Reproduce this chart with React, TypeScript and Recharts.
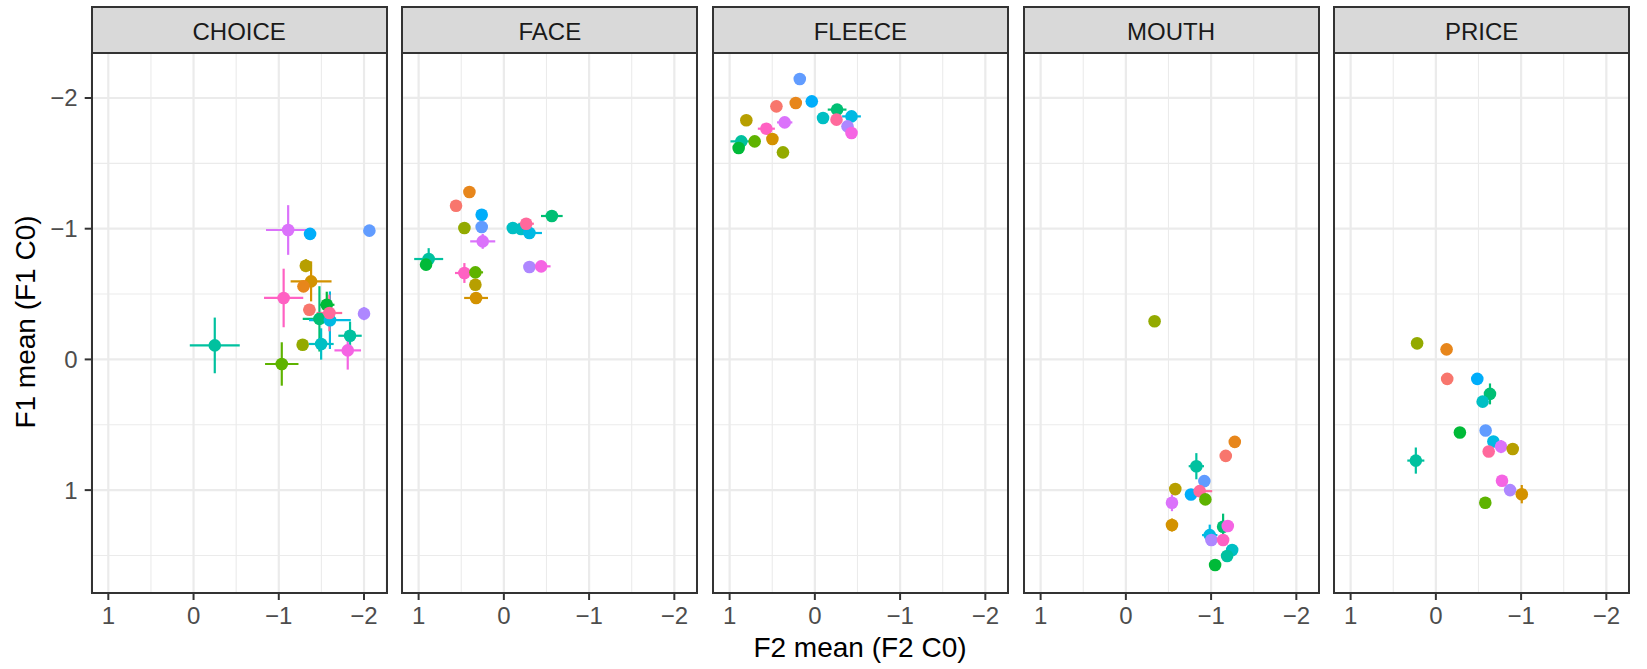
import React from 'react'
import { ScatterChart, Scatter, XAxis, YAxis, CartesianGrid, ErrorBar } from 'recharts'

// ggplot-style hue palette, one colour per speaker
const hues = [
  '#F8766D', '#E7861B', '#D39200', '#B79F00', '#93AA00', '#5EB300',
  '#00BA38', '#00BF74', '#00C19F', '#00BFC4', '#00B9E3', '#00ADFA',
  '#619CFF', '#AE87FF', '#DB72FB', '#F564E3', '#FF61C3', '#FF699C',
]

const facets = ['CHOICE', 'FACE', 'FLEECE', 'MOUTH', 'PRICE']

// x = F2 mean, y = F1 mean, ex / ey = error half-widths, c = speaker colour
const choice = [
  { x: -1.11, y: -0.99, ex: 0.26, ey: 0.19, c: 14 },
  { x: -1.367, y: -0.96, ex: 0, ey: 0, c: 11 },
  { x: -2.063, y: -0.985, ex: 0, ey: 0, c: 12 },
  { x: -1.317, y: -0.717, ex: 0.03, ey: 0.05, c: 3 },
  { x: -1.379, y: -0.597, ex: 0.24, ey: 0.153, c: 2 },
  { x: -1.29, y: -0.559, ex: 0.06, ey: 0.04, c: 1 },
  { x: -1.057, y: -0.47, ex: 0.23, ey: 0.224, c: 16 },
  { x: -1.359, y: -0.38, ex: 0.07, ey: 0.04, c: 0 },
  { x: -1.563, y: -0.418, ex: 0.09, ey: 0.1, c: 6 },
  { x: -1.477, y: -0.31, ex: 0.196, ey: 0.25, c: 7 },
  { x: -1.6, y: -0.3, ex: 0.245, ey: 0.22, c: 10 },
  { x: -1.594, y: -0.355, ex: 0.15, ey: 0.14, c: 17 },
  { x: -2.0, y: -0.35, ex: 0.04, ey: 0.05, c: 13 },
  { x: -1.28, y: -0.112, ex: 0, ey: 0, c: 4 },
  { x: -1.497, y: -0.118, ex: 0.147, ey: 0.12, c: 9 },
  { x: -1.836, y: -0.181, ex: 0.137, ey: 0.108, c: 8 },
  { x: -1.809, y: -0.069, ex: 0.156, ey: 0.147, c: 15 },
  { x: -0.249, y: -0.107, ex: 0.293, ey: 0.213, c: 8 },
  { x: -1.035, y: 0.035, ex: 0.196, ey: 0.166, c: 5 },
]

const face = [
  { x: 0.404, y: -1.281, ex: 0, ey: 0, c: 1 },
  { x: 0.561, y: -1.176, ex: 0, ey: 0, c: 0 },
  { x: 0.26, y: -1.107, ex: 0, ey: 0, c: 11 },
  { x: 0.463, y: -1.005, ex: 0, ey: 0, c: 4 },
  { x: 0.26, y: -1.013, ex: 0, ey: 0, c: 12 },
  { x: 0.248, y: -0.903, ex: 0.147, ey: 0.057, c: 14 },
  { x: 0.882, y: -0.768, ex: 0.17, ey: 0.083, c: 8 },
  { x: 0.913, y: -0.725, ex: 0.04, ey: 0.03, c: 6 },
  { x: 0.463, y: -0.661, ex: 0.11, ey: 0.076, c: 16 },
  { x: 0.334, y: -0.666, ex: 0.09, ey: 0.04, c: 5 },
  { x: 0.334, y: -0.571, ex: 0, ey: 0, c: 3 },
  { x: 0.326, y: -0.47, ex: 0.14, ey: 0.04, c: 2 },
  { x: -0.105, y: -1.005, ex: 0, ey: 0, c: 9 },
  { x: -0.203, y: -0.998, ex: 0, ey: 0, c: 9 },
  { x: -0.3, y: -0.967, ex: 0.147, ey: 0.03, c: 10 },
  { x: -0.262, y: -1.038, ex: 0.09, ey: 0.03, c: 17 },
  { x: -0.563, y: -1.097, ex: 0.127, ey: 0.04, c: 7 },
  { x: -0.3, y: -0.707, ex: 0, ey: 0, c: 13 },
  { x: -0.438, y: -0.712, ex: 0.11, ey: 0.02, c: 15 },
]

const fleece = [
  { x: 0.177, y: -2.145, ex: 0, ey: 0, c: 12 },
  { x: 0.036, y: -1.974, ex: 0, ey: 0, c: 11 },
  { x: 0.451, y: -1.936, ex: 0, ey: 0, c: 0 },
  { x: 0.224, y: -1.962, ex: 0, ey: 0, c: 1 },
  { x: 0.804, y: -1.829, ex: 0, ey: 0, c: 3 },
  { x: 0.354, y: -1.813, ex: 0.09, ey: 0.02, c: 14 },
  { x: 0.569, y: -1.765, ex: 0.1, ey: 0.02, c: 16 },
  { x: 0.498, y: -1.686, ex: 0, ey: 0, c: 2 },
  { x: 0.706, y: -1.668, ex: 0, ey: 0, c: 5 },
  { x: 0.863, y: -1.668, ex: 0.127, ey: 0.04, c: 8 },
  { x: 0.894, y: -1.617, ex: 0, ey: 0, c: 6 },
  { x: 0.374, y: -1.584, ex: 0, ey: 0, c: 4 },
  { x: -0.261, y: -1.911, ex: 0.11, ey: 0.03, c: 7 },
  { x: -0.096, y: -1.847, ex: 0, ey: 0, c: 9 },
  { x: -0.254, y: -1.834, ex: 0.06, ey: 0.02, c: 17 },
  { x: -0.43, y: -1.859, ex: 0.11, ey: 0.02, c: 10 },
  { x: -0.383, y: -1.783, ex: 0, ey: 0, c: 13 },
  { x: -0.43, y: -1.732, ex: 0.04, ey: 0.02, c: 15 },
]

const mouth = [
  { x: -0.337, y: -0.292, ex: 0, ey: 0, c: 4 },
  { x: -1.278, y: 0.631, ex: 0, ey: 0, c: 1 },
  { x: -1.172, y: 0.738, ex: 0, ey: 0, c: 0 },
  { x: -0.827, y: 0.817, ex: 0.09, ey: 0.1, c: 8 },
  { x: -0.921, y: 0.931, ex: 0, ey: 0, c: 12 },
  { x: -0.58, y: 0.992, ex: 0, ey: 0, c: 3 },
  { x: -0.764, y: 1.033, ex: 0, ey: 0, c: 11 },
  { x: -0.866, y: 1.008, ex: 0.147, ey: 0.03, c: 17 },
  { x: -0.541, y: 1.097, ex: 0.02, ey: 0.064, c: 14 },
  { x: -0.933, y: 1.071, ex: 0, ey: 0, c: 5 },
  { x: -0.541, y: 1.267, ex: 0.02, ey: 0.05, c: 2 },
  { x: -1.141, y: 1.28, ex: 0.02, ey: 0.1, c: 7 },
  { x: -1.196, y: 1.275, ex: 0.04, ey: 0.03, c: 15 },
  { x: -0.984, y: 1.344, ex: 0.09, ey: 0.08, c: 10 },
  { x: -1.004, y: 1.382, ex: 0, ey: 0, c: 13 },
  { x: -1.141, y: 1.382, ex: 0, ey: 0, c: 16 },
  { x: -1.247, y: 1.458, ex: 0, ey: 0, c: 9 },
  { x: -1.188, y: 1.504, ex: 0, ey: 0, c: 8 },
  { x: -1.047, y: 1.573, ex: 0, ey: 0, c: 6 },
]

const price = [
  { x: 0.22, y: -0.123, ex: 0, ey: 0, c: 4 },
  { x: -0.126, y: -0.077, ex: 0, ey: 0, c: 1 },
  { x: -0.133, y: 0.149, ex: 0, ey: 0, c: 0 },
  { x: -0.486, y: 0.149, ex: 0, ey: 0, c: 11 },
  { x: -0.635, y: 0.264, ex: 0.07, ey: 0.08, c: 7 },
  { x: -0.549, y: 0.323, ex: 0.03, ey: 0.03, c: 9 },
  { x: -0.282, y: 0.559, ex: 0, ey: 0, c: 6 },
  { x: -0.584, y: 0.544, ex: 0, ey: 0, c: 12 },
  { x: -0.675, y: 0.628, ex: 0.05, ey: 0.03, c: 10 },
  { x: -0.765, y: 0.667, ex: 0.04, ey: 0.05, c: 14 },
  { x: -0.62, y: 0.705, ex: 0, ey: 0, c: 17 },
  { x: -0.902, y: 0.685, ex: 0, ey: 0, c: 3 },
  { x: 0.235, y: 0.774, ex: 0.1, ey: 0.1, c: 8 },
  { x: -0.776, y: 0.928, ex: 0, ey: 0, c: 15 },
  { x: -0.871, y: 1.0, ex: 0, ey: 0, c: 13 },
  { x: -1.008, y: 1.031, ex: 0.02, ey: 0.07, c: 2 },
  { x: -0.58, y: 1.097, ex: 0, ey: 0, c: 5 },
]

const facetData = [choice, face, fleece, mouth, price]

const xTicks = [1, 0, -1, -2]
const xMinor = [0.5, -0.5, -1.5]
const yTicks = [-2, -1, 0, 1]
const yMinor = [-1.5, -0.5, 0.5, 1.5]
const xDomain = [-2.266, 1.195]
const yDomain = [-2.344, 1.787]

const FONT = '"Liberation Sans", Arial, Helvetica, sans-serif'
const PANEL_W = 295
const PLOT_TOP = 53.3
const PLOT_H = 540
const STRIP_TOP = 6
const lefts = [91.7, 402.3, 712.9, 1023.5, 1334.1]

const fmt = (v: number) => (v < 0 ? '\u2212' + Math.abs(v) : String(v))

const Dot = (props: any) => {
  const { cx, cy, payload } = props
  if (cx == null || cy == null) return <g />
  return <circle cx={cx} cy={cy} r={6.3} fill={hues[payload.c]} />
}

const Empty = () => <g />

const tickStyle = { fill: '#4D4D4D', fontSize: 24, fontFamily: FONT }
const tickLineStyle = { stroke: '#333333', strokeWidth: 2 }

const Facet = ({ idx }: { idx: number }) => {
  const pts = facetData[idx]
  const first = idx === 0
  const left = first ? 0 : lefts[idx]
  const width = first ? lefts[0] + PANEL_W : PANEL_W
  return (
    <>
      {/* strip */}
      <div
        style={{
          position: 'absolute',
          left: lefts[idx] - 1,
          top: STRIP_TOP,
          width: PANEL_W + 2,
          height: PLOT_TOP - STRIP_TOP + 1,
          boxSizing: 'border-box',
          border: '2px solid #333333',
          background: '#D9D9D9',
          color: '#1A1A1A',
          fontFamily: FONT,
          fontSize: 24,
          lineHeight: '24px',
          display: 'flex',
          alignItems: 'center',
          justifyContent: 'center',
          paddingTop: 3,
        }}
      >
        {facets[idx]}
      </div>
      <div style={{ position: 'absolute', left, top: PLOT_TOP }}>
        <ScatterChart width={width} height={PLOT_H + 60} margin={{ top: 0, right: 0, bottom: 0, left: 0 }}>
          <XAxis xAxisId="minor" type="number" dataKey="x" domain={xDomain} allowDataOverflow reversed ticks={xMinor} hide />
          <YAxis yAxisId="minor" type="number" dataKey="y" domain={yDomain} allowDataOverflow reversed ticks={yMinor} hide />
          <CartesianGrid xAxisId="minor" yAxisId="minor" stroke="#EBEBEB" strokeWidth={1.1} />
          <CartesianGrid stroke="#EBEBEB" strokeWidth={2.2} />
          <XAxis
            type="number"
            dataKey="x"
            domain={xDomain}
            allowDataOverflow
            reversed
            ticks={xTicks}
            tickFormatter={fmt}
            axisLine={false}
            tickLine={tickLineStyle}
            tickSize={7}
            tickMargin={7}
            tick={tickStyle}
            height={60}
            interval={0}
          />
          <YAxis
            type="number"
            dataKey="y"
            domain={yDomain}
            allowDataOverflow
            reversed
            ticks={yTicks}
            tickFormatter={fmt}
            axisLine={false}
            tickLine={tickLineStyle}
            tickSize={7}
            tickMargin={7}
            tick={tickStyle}
            width={lefts[0]}
            interval={0}
            hide={!first}
          />
          {pts.map((p, i) => (
            <Scatter key={'e' + i} data={[p]} shape={Empty} isAnimationActive={false}>
              {p.ex > 0 && (
                <ErrorBar dataKey="ex" direction="x" width={0} stroke={hues[p.c]} strokeWidth={2.2} isAnimationActive={false} />
              )}
              {p.ey > 0 && (
                <ErrorBar dataKey="ey" direction="y" width={0} stroke={hues[p.c]} strokeWidth={2.2} isAnimationActive={false} />
              )}
            </Scatter>
          ))}
          <Scatter data={pts} shape={Dot} isAnimationActive={false} />
        </ScatterChart>
      </div>
      {/* panel border */}
      <div
        style={{
          position: 'absolute',
          left: lefts[idx] - 1,
          top: PLOT_TOP - 1,
          width: PANEL_W + 2,
          height: PLOT_H + 2,
          boxSizing: 'border-box',
          border: '2px solid #333333',
          pointerEvents: 'none',
        }}
      />
    </>
  )
}

const App = () => {
  return (
    <div style={{ position: 'absolute', left: 0, top: 0, width: 1647, height: 669, background: '#FFFFFF', fontFamily: FONT }}>
      {facets.map((f, i) => (
        <Facet key={f} idx={i} />
      ))}
      <div
        style={{
          position: 'absolute',
          left: 0,
          width: 1720,
          top: 634,
          textAlign: 'center',
          fontSize: 28,
          lineHeight: '28px',
          color: '#000000',
          whiteSpace: 'nowrap',
        }}
      >
        F2 mean (F2 C0)
      </div>
      <div
        style={{
          position: 'absolute',
          left: 26.3,
          top: 322,
          width: 400,
          height: 28,
          lineHeight: '28px',
          fontSize: 28,
          textAlign: 'center',
          color: '#000000',
          whiteSpace: 'nowrap',
          transform: 'translate(-50%, -50%) rotate(-90deg)',
        }}
      >
        F1 mean (F1 C0)
      </div>
    </div>
  )
}

export default App
